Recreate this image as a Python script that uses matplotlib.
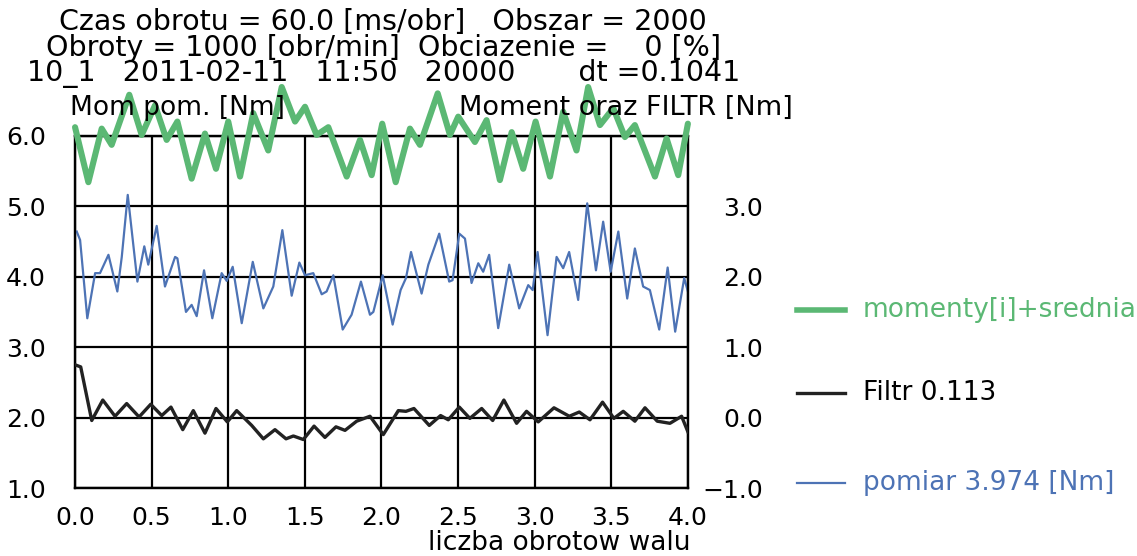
import numpy as np
import matplotlib
matplotlib.use("Agg")
import matplotlib.pyplot as plt
from matplotlib.ticker import FuncFormatter

plt.rcParams['font.family'] = ['DejaVu Sans']

# green: momenty[i]+srednia (left axis)
green_x = [0.000, 0.087, 0.174, 0.239, 0.354, 0.435, 0.522, 0.598, 0.668, 0.761,
           0.848, 0.920, 1.000, 1.077, 1.163, 1.261, 1.349, 1.436, 1.501, 1.577,
           1.653, 1.773, 1.860, 1.936, 2.005, 2.093, 2.186, 2.251, 2.367, 2.447,
           2.501, 2.610, 2.686, 2.773, 2.850, 2.925, 3.006, 3.100, 3.186, 3.273,
           3.349, 3.426, 3.513, 3.589, 3.654, 3.785, 3.861, 3.937, 4.000]
green_y = [6.12, 5.34, 6.10, 5.87, 6.58, 6.01, 6.43, 5.94, 6.20, 5.39,
           6.03, 5.53, 6.20, 5.42, 6.32, 5.79, 6.69, 6.20, 6.41, 6.01,
           6.12, 5.42, 5.94, 5.44, 6.17, 5.34, 6.10, 5.87, 6.60, 6.01,
           6.27, 5.91, 6.22, 5.37, 6.05, 5.53, 6.20, 5.42, 6.34, 5.79,
           6.69, 6.15, 6.39, 5.98, 6.15, 5.42, 5.96, 5.44, 6.17]

# blue: pomiar (left axis)
blue_x = [0.011, 0.033, 0.080, 0.131, 0.163, 0.218, 0.276, 0.305, 0.344, 0.407,
          0.452, 0.478, 0.533, 0.587, 0.653, 0.668, 0.724, 0.761, 0.794, 0.842,
          0.896, 0.957, 0.990, 1.029, 1.088, 1.160, 1.229, 1.294, 1.353, 1.414,
          1.464, 1.501, 1.555, 1.610, 1.642, 1.686, 1.747, 1.805, 1.866, 1.925,
          1.947, 2.008, 2.073, 2.125, 2.160, 2.193, 2.262, 2.306, 2.377, 2.442,
          2.464, 2.508, 2.545, 2.588, 2.632, 2.664, 2.703, 2.762, 2.834, 2.899,
          2.958, 2.987, 3.019, 3.084, 3.143, 3.186, 3.225, 3.284, 3.343, 3.400,
          3.447, 3.496, 3.546, 3.604, 3.654, 3.708, 3.752, 3.813, 3.868, 3.917,
          3.976, 4.000]
blue_y = [4.64, 4.52, 3.41, 4.05, 4.05, 4.31, 3.79, 4.28, 5.16, 3.93,
          4.43, 4.17, 4.72, 3.86, 4.28, 4.26, 3.50, 3.60, 3.44, 4.09,
          3.41, 4.05, 3.94, 4.14, 3.34, 4.21, 3.55, 3.86, 4.66, 3.73,
          4.20, 4.02, 4.05, 3.75, 3.79, 4.02, 3.25, 3.46, 3.93, 3.46,
          3.50, 4.02, 3.32, 3.81, 3.98, 4.35, 3.76, 4.17, 4.61, 3.93,
          3.95, 4.61, 4.54, 3.91, 4.19, 4.07, 4.31, 3.27, 4.17, 3.55,
          3.88, 3.81, 4.35, 3.17, 4.28, 4.12, 4.35, 3.67, 5.04, 4.09,
          4.78, 4.07, 4.64, 3.69, 4.40, 3.86, 3.81, 3.25, 4.13, 3.22,
          3.98, 3.79]

# black: Filtr (right axis)
filt_x = [0.000, 0.037, 0.109, 0.181, 0.261, 0.337, 0.418, 0.494, 0.566, 0.626,
          0.703, 0.772, 0.848, 0.920, 0.994, 1.055, 1.153, 1.229, 1.305, 1.377,
          1.425, 1.490, 1.560, 1.631, 1.703, 1.762, 1.838, 1.925, 2.012, 2.110,
          2.160, 2.212, 2.312, 2.386, 2.436, 2.508, 2.577, 2.654, 2.726, 2.799,
          2.882, 2.947, 3.023, 3.126, 3.226, 3.291, 3.361, 3.443, 3.517, 3.578,
          3.654, 3.720, 3.800, 3.883, 3.959, 4.000]
filt_y = [0.75, 0.72, -0.04, 0.25, 0.02, 0.20, 0.01, 0.19, 0.03, 0.15,
          -0.17, 0.10, -0.22, 0.13, -0.06, 0.10, -0.11, -0.30, -0.17, -0.30,
          -0.26, -0.31, -0.12, -0.28, -0.13, -0.18, -0.05, 0.02, -0.24, 0.10,
          0.09, 0.13, -0.11, 0.03, -0.03, 0.15, -0.01, 0.13, -0.04, 0.25,
          -0.08, 0.09, -0.06, 0.14, 0.02, 0.08, -0.03, 0.22, -0.01, 0.09,
          -0.05, 0.14, -0.05, -0.08, 0.02, -0.20]

header = ["Czas obrotu = 60.0 [ms/obr]   Obszar = 2000",
          "Obroty = 1000 [obr/min]  Obciazenie =    0 [%]",
          "10_1   2011-02-11   11:50   20000       dt =0.1041"]

GREEN = '#5bb874'
BLUE = '#4d73b5'
BLACK = '#222222'
FS = 19
TFS = 18

def fmt(v, pos):
    return ('%.1f' % v).replace('-', '\u2212')

fig = plt.figure(figsize=(11.37, 5.56), dpi=100)
ax = fig.add_axes([0.066, 0.122, 0.539, 0.634])
ax2 = ax.twinx()

ax.set_xlim(0, 4)
ax.set_ylim(1, 6)
ax2.set_ylim(-1, 4)
ax.set_xticks(np.arange(0, 4.01, 0.5))
ax.set_yticks(np.arange(1, 6.01, 1))
ax2.set_yticks(np.arange(-1, 3.01, 1))
for a in (ax, ax2):
    a.tick_params(length=0, labelsize=TFS)
    a.yaxis.set_major_formatter(FuncFormatter(fmt))
    for s in a.spines.values():
        s.set_linewidth(1.6)
ax.xaxis.set_major_formatter(FuncFormatter(fmt))
ax.tick_params(axis='x', pad=13)
ax.tick_params(axis='y', pad=21)
ax2.tick_params(axis='y', pad=54)
for t in ax2.get_yticklabels():
    t.set_horizontalalignment('right')
ax.grid(True, color='black', linewidth=1.6)

ax.plot(blue_x, blue_y, color=BLUE, lw=1.6, zorder=3)
ax2.plot(filt_x, filt_y, color=BLACK, lw=2.4, zorder=3,
         solid_joinstyle='round')
ax2.plot(green_x, [v - 2 for v in green_y], color=GREEN, lw=4.4, clip_on=False,
         solid_joinstyle='round', solid_capstyle='round', zorder=4)

fig.text(0.607, 0.023, "liczba obrotow walu", fontsize=FS, ha='right', va='center')

for i, line in enumerate(header):
    fig.text(0.337, 0.961 - i * 0.047, line, fontsize=20.5, ha='center', va='center')
fig.text(0.062, 0.806, "Mom pom. [Nm]", fontsize=FS, va='center')
fig.text(0.697, 0.806, "Moment oraz FILTR [Nm]", fontsize=19.5, va='center', ha='right')

# legend on the right
leg = [("momenty[i]+srednia", GREEN, 4, 0.442),
       ("Filtr 0.113", BLACK, 2.4, 0.293),
       ("pomiar 3.974 [Nm]", BLUE, 1.6, 0.131)]
for label, col, lw, yy in leg:
    fig.add_artist(plt.Line2D([0.701, 0.743], [yy, yy], color=col, lw=lw))
    fig.text(0.759, yy, label, fontsize=FS,
             color=col if col != BLACK else 'black', va='center')

fig.savefig("out.png", dpi=100)
